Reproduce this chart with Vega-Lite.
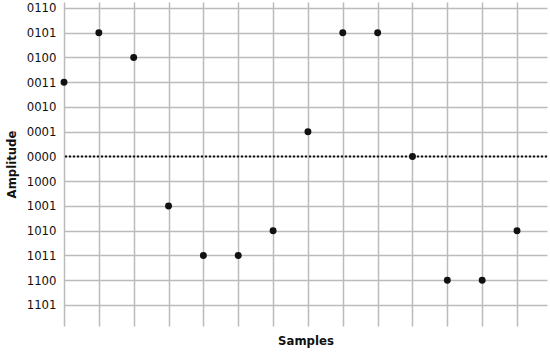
{
  "$schema": "https://vega.github.io/schema/vega-lite/v6.json",
  "width": 483,
  "height": 324,
  "autosize": {"type": "none"},
  "padding": {"left": 64, "top": 2, "right": 3, "bottom": 28},
  "background": "white",
  "config": {
    "view": {"stroke": null},
    "font": "DejaVu Sans Condensed, sans-serif",
    "axisY": {
      "values": [6,5,4,3,2,1,0,-1,-2,-3,-4,-5,-6],
      "labelExpr": "{'6':'0110','5':'0101','4':'0100','3':'0011','2':'0010','1':'0001','0':'0000','-1':'1000','-2':'1001','-3':'1010','-4':'1011','-5':'1100','-6':'1101'}[datum.value+'']",
      "labelOverlap": false,
      "ticks": false,
      "domain": false,
      "grid": true,
      "gridColor": "#bbbbbb",
      "gridWidth": 1.5,
      "labelFont": "DejaVu Sans Condensed, sans-serif",
      "labelFontSize": 13,
      "labelColor": "#111",
      "labelPadding": 8,
      "titleFont": "DejaVu Sans Condensed, sans-serif",
      "titleFontSize": 13,
      "titleFontWeight": "bold",
      "titleColor": "#111",
      "titlePadding": 8
    }
  },
  "data": {
    "values": [
      {"sample": 0, "amp": 3},
      {"sample": 1, "amp": 5},
      {"sample": 2, "amp": 4},
      {"sample": 3, "amp": -2},
      {"sample": 4, "amp": -4},
      {"sample": 5, "amp": -4},
      {"sample": 6, "amp": -3},
      {"sample": 7, "amp": 1},
      {"sample": 8, "amp": 5},
      {"sample": 9, "amp": 5},
      {"sample": 10, "amp": 0},
      {"sample": 11, "amp": -5},
      {"sample": 12, "amp": -5},
      {"sample": 13, "amp": -3}
    ]
  },
  "layer": [
    {
      "mark": {"type": "rule", "color": "#111", "strokeWidth": 2, "strokeDash": [2, 2]},
      "data": {"values": [{"amp": 0}]},
      "encoding": {
        "y": {
          "field": "amp",
          "type": "quantitative",
          "scale": {"domain": [-6.85, 6.24], "nice": false, "zero": false},
          "axis": {"title": "Amplitude", "values": [6,5,4,3,2,1,0,-1,-2,-3,-4,-5,-6], "labelOverlap": false}
        }
      }
    },
    {
      "mark": {"type": "circle", "color": "#111", "opacity": 1, "size": 48},
      "encoding": {
        "x": {
          "field": "sample",
          "type": "quantitative",
          "scale": {"domain": [0, 13.86], "nice": false, "zero": false},
          "axis": {
            "values": [0,1,2,3,4,5,6,7,8,9,10,11,12,13],
            "labels": false,
            "ticks": false,
            "domain": false,
            "grid": true,
            "gridColor": "#bbbbbb",
            "gridWidth": 1.5,
            "title": "Samples",
            "titleFont": "DejaVu Sans Condensed, sans-serif",
            "titleFontSize": 13,
            "titleFontWeight": "bold",
            "titleColor": "#111",
            "titlePadding": 8
          }
        },
        "y": {
          "field": "amp",
          "type": "quantitative",
          "scale": {"domain": [-6.85, 6.24], "nice": false, "zero": false},
          "axis": {"title": "Amplitude", "values": [6,5,4,3,2,1,0,-1,-2,-3,-4,-5,-6], "labelOverlap": false}
        }
      }
    }
  ]
}
